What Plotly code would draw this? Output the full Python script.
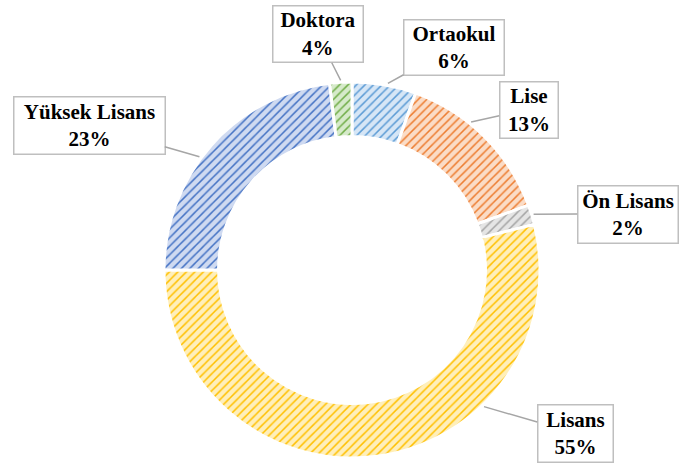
import math
import plotly.graph_objects as go

# ---- data ----
categories = ["Ortaokul", "Lise", "Ön Lisans", "Lisans", "Yüksek Lisans", "Doktora"]
slice_values = [5.5, 13.9, 1.7, 53.9, 23.1, 1.9]          # slice sizes read from the ring
label_percents = ["6%", "13%", "2%", "55%", "23%", "4%"]   # percentages printed in the callouts

# ---- style ----
fg_colors = ["#5B9BD5", "#ED7D31", "#A5A5A5", "#FFC000", "#4472C4", "#70AD47"]
bg_colors = ["#D6E6F6", "#FBDCC6", "#E5E5E5", "#FFEFBA", "#CFDAF1", "#D6EACA"]

W, H = 680, 467
CX, CY, R = 352, 270, 188  # pie centre / radius in px

fig = go.Figure(go.Pie(
    labels=categories,
    values=slice_values,
    hole=0.71,
    sort=False,
    direction="clockwise",
    rotation=0,
    textinfo="none",
    hoverinfo="label+percent",
    marker=dict(
        colors=bg_colors,
        line=dict(color="white", width=3),
        pattern=dict(shape="/", fgcolor=fg_colors, bgcolor=bg_colors,
                     size=6, solidity=0.25, fillmode="replace"),
    ),
    domain=dict(x=[(CX - R) / W, (CX + R) / W],
                y=[1 - (CY + R) / H, 1 - (CY - R) / H]),
    showlegend=False,
))

# callout boxes (left, top, right, bottom) in px and leader angle tweaks (deg)
boxes = [(403, 19, 504, 75), (499, 81, 558, 138), (577, 185, 678, 243),
         (537, 404, 613, 462), (13, 96, 165, 154), (272, 6, 363, 63)]
leader_shift = [1, -6, 0, -37, -5, 0]

total = sum(slice_values)
cum = 0.0
for i, (cat, v) in enumerate(zip(categories, slice_values)):
    mid = (cum + v / 2) / total * 360 + leader_shift[i]
    cum += v
    a = math.radians(mid)
    tx = CX + (R + 2) * math.sin(a)
    ty = CY - (R + 2) * math.cos(a)
    l, t, r, b = boxes[i]
    bx, by = (l + r) / 2, (t + b) / 2
    fig.add_annotation(
        x=tx / W, y=1 - ty / H, xref="paper", yref="paper",
        ax=bx - tx, ay=by - ty, axref="pixel", ayref="pixel",
        text=f"<b>{cat}<br>{label_percents[i]}</b>",
        showarrow=True, arrowhead=0, arrowwidth=1.5, arrowcolor="#A6A6A6",
        font=dict(family="Liberation Serif, Times New Roman, serif", size=21, color="black"),
        bgcolor="white", bordercolor="#BFBFBF", borderwidth=1.5, borderpad=0,
        width=r - l - 2, height=b - t - 2, align="center", valign="middle",
    )

fig.update_layout(
    width=W, height=H,
    margin=dict(l=0, r=0, t=0, b=0),
    paper_bgcolor="white", plot_bgcolor="white",
)

fig.write_html("out.html", config={"displayModeBar": False},
               post_script="document.body.style.margin='0px';")
